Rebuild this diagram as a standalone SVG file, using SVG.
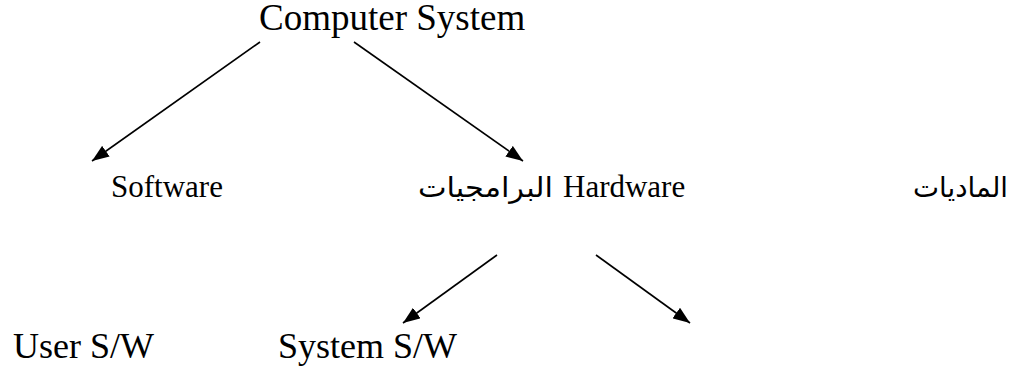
<svg xmlns="http://www.w3.org/2000/svg" width="1029" height="373" viewBox="0 0 1029 373">
  <style>
    .lbl { font-family: "Liberation Serif", "Times New Roman", serif; fill: #000; }
    .top { font-size: 37px; }
    .mid { font-size: 31px; }
    .low { font-size: 36px; }
    .ar { font-family: "DejaVu Sans", "Liberation Sans", sans-serif; font-size: 28px; fill: #000; }
    .edge { stroke: #000; stroke-width: 1.6; fill: none; marker-end: url(#head); }
  </style>
  <defs>
    <marker id="head" viewBox="0 0 10 10" refX="10" refY="5" markerWidth="17" markerHeight="13" markerUnits="userSpaceOnUse" orient="auto" preserveAspectRatio="none">
      <path d="M0,0 L10,5 L0,10 z" fill="#000"/>
    </marker>
  </defs>
  <rect width="1029" height="373" fill="#fff"/>

  <g id="connectors">
    <line class="edge" x1="260" y1="42" x2="92" y2="161"/>
    <line class="edge" x1="354" y1="42" x2="523" y2="161"/>
    <line class="edge" x1="497" y1="255" x2="403" y2="323"/>
    <line class="edge" x1="596" y1="255" x2="690" y2="323"/>
  </g>

  <g id="node-computer-system">
    <text class="lbl top" x="259" y="30">Computer System</text>
  </g>
  <g id="node-software">
    <text class="lbl mid" x="111" y="197">Software</text>
  </g>
  <g id="node-hardware">
    <text class="ar" x="553" y="197" text-anchor="end" textLength="135" lengthAdjust="spacingAndGlyphs">البرامجيات</text>
    <text class="lbl mid" x="563" y="197">Hardware</text>
  </g>
  <g id="node-materials">
    <text class="ar" x="913" y="197" textLength="95" lengthAdjust="spacingAndGlyphs">الماديات</text>
  </g>
  <g id="node-user-sw">
    <text class="lbl low" x="13" y="358">User S/W</text>
  </g>
  <g id="node-system-sw">
    <text class="lbl low" x="278" y="358">System S/W</text>
  </g>
</svg>
